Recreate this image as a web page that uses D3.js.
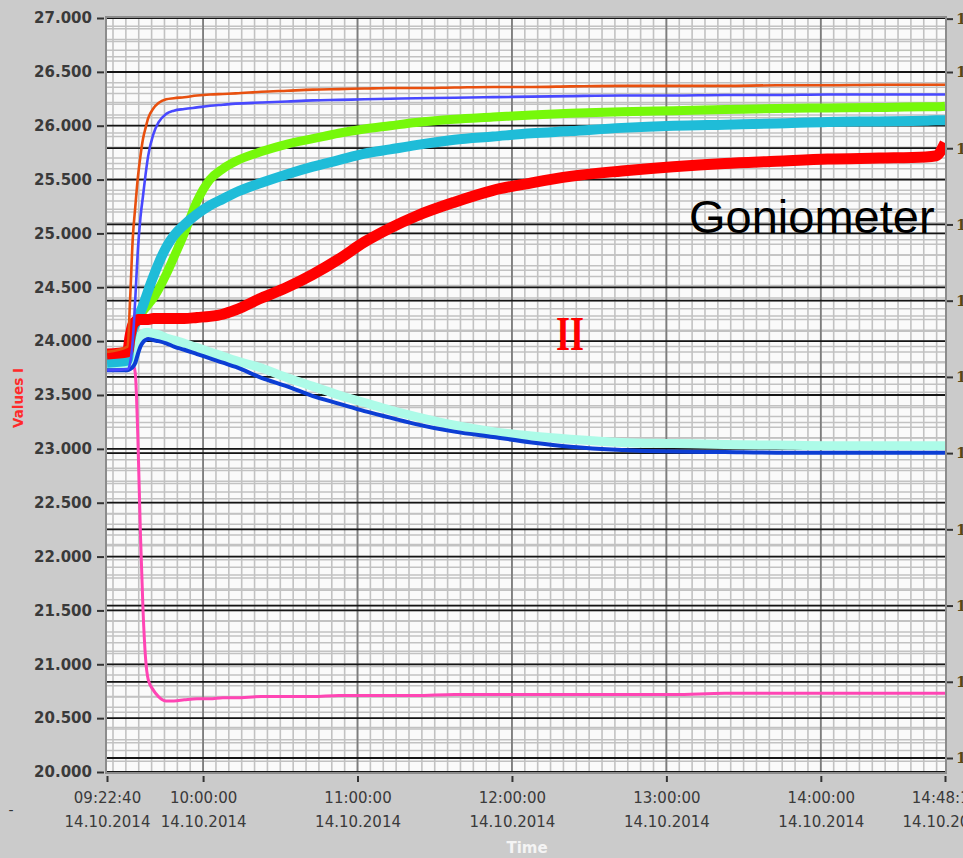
<!DOCTYPE html>
<html>
<head>
<meta charset="utf-8">
<script src="https://cdn.jsdelivr.net/npm/d3@7"></script>
<style>
  html, body { margin: 0; padding: 0; background: #cbcbcb; }
  svg { display: block; }
</style>
</head>
<body>
<svg id="chart" width="963" height="858"></svg>
<script>
// ---- data ---------------------------------------------------------------
const startStamp = "2014-10-14 09:22:40";
const endStamp   = "2014-10-14 14:48:15";

// sample times, minutes after the start of the recording
const elapsedMin = [0, 8, 9, 10, 11, 12, 13, 14, 15, 16, 18, 20, 23, 26, 30, 35, 40, 45, 50,
  60, 70, 80, 90, 100, 110, 120, 135, 150, 165, 180, 200, 220, 240, 260, 280, 300, 318, 322, 325.6];

const orangeValues = [23.90, 23.95, 24.40, 24.95, 25.25, 25.52, 25.72, 25.88, 25.98, 26.07, 26.16, 26.21,
  26.245, 26.255, 26.265, 26.28, 26.29, 26.295, 26.30, 26.315, 26.325, 26.335, 26.34, 26.345, 26.35, 26.35,
  26.355, 26.36, 26.36, 26.365, 26.37, 26.37, 26.37, 26.375, 26.375, 26.38, 26.38, 26.38, 26.38];

const blueValues = [23.73, 23.74, 23.80, 24.00, 24.40, 24.85, 25.15, 25.35, 25.55, 25.72, 25.92, 26.03,
  26.11, 26.14, 26.155, 26.17, 26.185, 26.195, 26.205, 26.215, 26.225, 26.235, 26.24, 26.245, 26.25, 26.255,
  26.26, 26.265, 26.27, 26.275, 26.28, 26.28, 26.285, 26.285, 26.29, 26.29, 26.29, 26.29, 26.29];

const greenValues = [23.83, 23.85, 24.05, 24.13, 24.17, 24.21, 24.25, 24.28, 24.31, 24.34, 24.40, 24.48,
  24.62, 24.78, 25.00, 25.30, 25.50, 25.60, 25.67, 25.76, 25.83, 25.88, 25.93, 25.97, 26.00, 26.03,
  26.06, 26.08, 26.10, 26.115, 26.13, 26.14, 26.15, 26.16, 26.165, 26.17, 26.175, 26.175, 26.18];

const cyanValues = [23.80, 23.82, 24.00, 24.10, 24.16, 24.21, 24.27, 24.33, 24.40, 24.47, 24.60, 24.72,
  24.87, 24.98, 25.08, 25.18, 25.26, 25.32, 25.38, 25.47, 25.55, 25.62, 25.68, 25.74, 25.78, 25.82,
  25.87, 25.90, 25.93, 25.95, 25.98, 26.00, 26.01, 26.02, 26.035, 26.04, 26.045, 26.05, 26.05];

const redValues = [23.88, 23.90, 24.05, 24.15, 24.18, 24.20, 24.20, 24.20, 24.20, 24.20, 24.21, 24.21,
  24.21, 24.21, 24.21, 24.22, 24.23, 24.25, 24.29, 24.40, 24.50, 24.62, 24.76, 24.92, 25.05, 25.16,
  25.29, 25.40, 25.47, 25.53, 25.58, 25.62, 25.65, 25.67, 25.69, 25.70, 25.71, 25.72, 25.84];

const aquaValues = [23.77, 23.77, 23.78, 23.80, 23.88, 23.98, 24.04, 24.07, 24.08, 24.08, 24.07, 24.06,
  24.03, 24.01, 23.98, 23.94, 23.90, 23.86, 23.82, 23.75, 23.66, 23.58, 23.50, 23.43, 23.36, 23.30,
  23.22, 23.16, 23.12, 23.09, 23.06, 23.05, 23.04, 23.035, 23.03, 23.03, 23.03, 23.03, 23.03];

const navyValues = [23.73, 23.73, 23.74, 23.76, 23.80, 23.88, 23.95, 23.99, 24.01, 24.02, 24.01, 24.00,
  23.98, 23.95, 23.92, 23.88, 23.84, 23.80, 23.76, 23.66, 23.58, 23.49, 23.42, 23.35, 23.29, 23.23,
  23.16, 23.11, 23.06, 23.02, 22.99, 22.975, 22.97, 22.965, 22.965, 22.965, 22.965, 22.965, 22.965];

const pinkValues = [23.78, 23.78, 23.79, 23.80, 23.70, 23.10, 22.20, 21.50, 21.05, 20.86, 20.76, 20.70,
  20.66, 20.66, 20.67, 20.68, 20.68, 20.69, 20.69, 20.70, 20.70, 20.70, 20.71, 20.71, 20.71, 20.71,
  20.72, 20.72, 20.72, 20.72, 20.72, 20.72, 20.73, 20.73, 20.73, 20.73, 20.73, 20.73, 20.73];

// axis ticks
const leftTicks  = [20, 20.5, 21, 21.5, 22, 22.5, 23, 23.5, 24, 24.5, 25, 25.5, 26, 26.5, 27];
const rightTicks = [10, 11, 12, 13, 14, 15, 16, 17, 18, 19, 19.7];
const timeTicks  = ["2014-10-14 09:22:40", "2014-10-14 10:00:00", "2014-10-14 11:00:00",
  "2014-10-14 12:00:00", "2014-10-14 13:00:00", "2014-10-14 14:00:00", "2014-10-14 14:48:15"];

// ---- layout -------------------------------------------------------------
const svg = d3.select("#chart");
const L = 106, R = 946, T = 17, B = 773;
const parse = d3.timeParse("%Y-%m-%d %H:%M:%S");
const t0 = parse(startStamp), t1 = parse(endStamp);

const x = d3.scaleTime().domain([t0, t1]).range([107, 945]);
const y = d3.scaleLinear().domain([20, 27]).range([772, 18]);
const y2 = d3.scaleLinear().domain([10, 19]).range([758, 72]);

svg.append("rect").attr("width", 963).attr("height", 858).attr("fill", "#cbcbcb");

svg.append("defs").append("clipPath").attr("id", "plotClip")
  .append("rect").attr("x", L).attr("y", T).attr("width", R - L).attr("height", B - T);

const plot = svg.append("g").attr("clip-path", "url(#plotClip)");
plot.append("rect").attr("x", L).attr("y", T).attr("width", R - L).attr("height", B - T)
  .attr("fill", "#fafafa");

const grid = plot.append("g");
const minorColor = "#c2c2c2";

// vertical minor lines every 5 minutes
grid.selectAll(".vmin").data(d3.timeMinute.every(5).range(t0, t1))
  .join("line")
  .attr("x1", d => x(d)).attr("x2", d => x(d)).attr("y1", T).attr("y2", B)
  .attr("stroke", minorColor).attr("stroke-width", 1.6);

// horizontal minor lines for the left scale (0.1 steps)
grid.selectAll(".hminL").data(d3.range(200, 271).map(d => d / 10))
  .join("line")
  .attr("x1", L).attr("x2", R).attr("y1", d => y(d)).attr("y2", d => y(d))
  .attr("stroke", minorColor).attr("stroke-width", 1.5);

// horizontal minor lines for the right scale (0.2 steps)
grid.selectAll(".hminR").data(d3.range(49, 99).map(d => d / 5))
  .join("line")
  .attr("x1", L).attr("x2", R).attr("y1", d => y2(d)).attr("y2", d => y2(d))
  .attr("stroke", minorColor).attr("stroke-width", 1.5);

// hourly vertical lines
grid.selectAll(".vmaj").data(d3.timeHour.range(t0, t1))
  .join("line")
  .attr("x1", d => x(d)).attr("x2", d => x(d)).attr("y1", T).attr("y2", B)
  .attr("stroke", "#7d7d7d").attr("stroke-width", 1.8);

// major horizontal lines of both scales
grid.selectAll(".hmajL").data(leftTicks)
  .join("line")
  .attr("x1", L).attr("x2", R).attr("y1", d => y(d)).attr("y2", d => y(d))
  .attr("stroke", "#151515").attr("stroke-width", 1.8);
grid.selectAll(".hmajR").data(rightTicks.filter(d => Number.isInteger(d)))
  .join("line")
  .attr("x1", L).attr("x2", R).attr("y1", d => y2(d)).attr("y2", d => y2(d))
  .attr("stroke", "#151515").attr("stroke-width", 1.8);

// ---- series ---------------------------------------------------------------
const times = elapsedMin.map(m => new Date(t0.getTime() + m * 60000));
const seriesStyles = [
  { values: pinkValues,   color: "#ff45b4", width: 3 },
  { values: aquaValues,   color: "#adfbe8", width: 9 },
  { values: navyValues,   color: "#0c3ed4", width: 4 },
  { values: greenValues,  color: "#76f80a", width: 9 },
  { values: cyanValues,   color: "#1fbcd8", width: 10 },
  { values: redValues,    color: "#ff0000", width: 11 },
  { values: blueValues,   color: "#4848ff", width: 2.6 },
  { values: orangeValues, color: "#e8500f", width: 2.6 }
];

const line = d3.line()
  .x(d => x(d[0]))
  .y(d => y(d[1]))
  .curve(d3.curveMonotoneX);

plot.selectAll(".series").data(seriesStyles)
  .join("path")
  .attr("d", s => line(times.map((t, i) => [t, s.values[i]])))
  .attr("fill", "none")
  .attr("stroke", s => s.color)
  .attr("stroke-width", s => s.width)
  .attr("stroke-linejoin", "round");

// plot frame
svg.append("rect").attr("x", L).attr("y", T).attr("width", R - L).attr("height", B - T)
  .attr("fill", "none").attr("stroke", "#8c8c8c").attr("stroke-width", 2);

// ---- axes -----------------------------------------------------------------
const leftAxis = svg.append("g").attr("transform", "translate(104,0)")
  .call(d3.axisLeft(y).tickValues(leftTicks).tickFormat(d3.format(".3f")).tickSize(7).tickPadding(5));
leftAxis.select(".domain").remove();
leftAxis.selectAll("line").attr("stroke", "#333").attr("stroke-width", 2);
leftAxis.selectAll("text")
  .attr("font-family", "DejaVu Sans, sans-serif").attr("font-weight", "bold")
  .attr("font-size", 15).attr("fill", "#3a3a3a");

const rightAxis = svg.append("g").attr("transform", "translate(947,0)")
  .call(d3.axisRight(y2).tickValues(rightTicks).tickFormat(d3.format(".3f")).tickSize(6).tickPadding(3));
rightAxis.select(".domain").remove();
rightAxis.selectAll("line").attr("stroke", "#333").attr("stroke-width", 2);
rightAxis.selectAll("text")
  .attr("font-family", "DejaVu Serif, serif").attr("font-weight", "bold")
  .attr("font-size", 15).attr("fill", "#5a4818");

const fmtTime = d3.timeFormat("%H:%M:%S");
const fmtDate = d3.timeFormat("%d.%m.%Y");
const bottomAxis = svg.append("g").attr("transform", "translate(0,776)")
  .call(d3.axisBottom(x).tickValues(timeTicks.map(parse)).tickSize(6).tickFormat(""));
bottomAxis.select(".domain").remove();
bottomAxis.selectAll("line").attr("stroke", "#333").attr("stroke-width", 2);
bottomAxis.selectAll(".tick").each(function (d) {
  const txt = d3.select(this).select("text")
    .attr("font-family", "DejaVu Sans, sans-serif").attr("font-size", 15)
    .attr("fill", "#3a3a3a").attr("text-anchor", "middle").attr("dy", null).attr("y", null);
  txt.text(null);
  txt.append("tspan").attr("x", 0).attr("y", 27).text(fmtTime(d));
  txt.append("tspan").attr("x", 0).attr("y", 50.5).text(fmtDate(d));
});

// ---- labels ---------------------------------------------------------------
svg.append("text")
  .attr("transform", "translate(23,398) rotate(-90)")
  .attr("text-anchor", "middle")
  .attr("font-family", "DejaVu Sans, sans-serif").attr("font-weight", "bold")
  .attr("font-size", 13.5).attr("fill", "#ff2a2a")
  .text("Values I");

svg.append("text")
  .attr("x", 527).attr("y", 853).attr("text-anchor", "middle")
  .attr("font-family", "DejaVu Sans, sans-serif").attr("font-weight", "bold")
  .attr("font-size", 15).attr("fill", "#f4f4f4")
  .text("Time");

svg.append("text")
  .attr("x", 11).attr("y", 815).attr("text-anchor", "middle")
  .attr("font-family", "DejaVu Sans, sans-serif").attr("font-size", 14).attr("fill", "#333")
  .text("-");

svg.append("text")
  .attr("x", 689).attr("y", 233)
  .attr("font-family", "Liberation Sans, Arial, sans-serif")
  .attr("font-size", 47).attr("fill", "#000")
  .text("Goniometer");

svg.append("text")
  .attr("x", 556).attr("y", 350)
  .attr("font-family", "Liberation Serif, serif").attr("font-weight", "bold")
  .attr("font-size", 48).attr("fill", "#ff0000")
  .attr("textLength", 28).attr("lengthAdjust", "spacingAndGlyphs")
  .text("II");
</script>
</body>
</html>
